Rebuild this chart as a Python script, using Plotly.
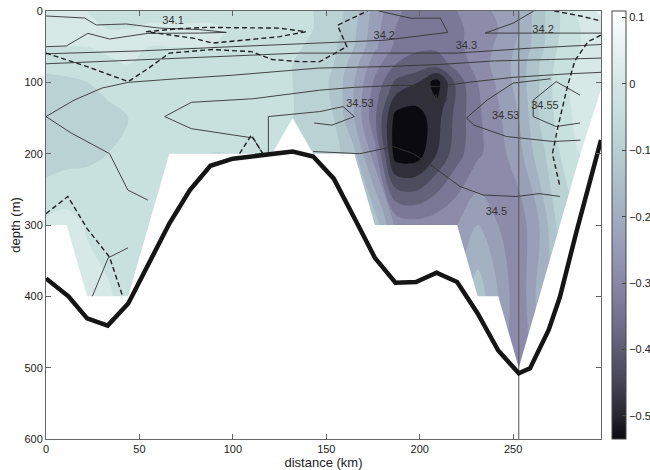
import plotly.graph_objects as go

# ---------------- data ----------------
stations = [0, 11, 22, 33, 44, 55, 66, 77, 88, 99, 110, 121, 132, 143, 154, 165, 176,
            187, 198, 209, 220, 231, 242, 253, 264, 275, 286, 297]
depth_levels = [0, 25, 50, 75, 100, 150, 200, 300, 400, 500]
N = None
anom_0 = [0.02, 0.01, 0.0, -0.01, -0.02, -0.02, -0.02, -0.02, -0.02, -0.02, -0.03, -0.03, -0.04, -0.05,
          -0.07, -0.13, -0.22, -0.29, -0.32, -0.32, -0.30, -0.27, -0.24, -0.20, -0.12, -0.05, 0.02, 0.06]
anom_25 = [0.03, 0.02, 0.01, 0.0, 0.0, 0.01, 0.01, 0.01, 0.01, 0.0, 0.0, -0.01, -0.03, -0.05,
           -0.08, -0.14, -0.23, -0.30, -0.33, -0.33, -0.31, -0.28, -0.25, -0.20, -0.12, -0.05, 0.0, 0.03]
anom_50 = [0.0, 0.0, 0.0, 0.01, 0.01, 0.0, 0.0, 0.0, 0.0, -0.01, -0.02, -0.03, -0.04, -0.06,
           -0.09, -0.15, -0.24, -0.31, -0.34, -0.34, -0.31, -0.28, -0.24, -0.19, -0.12, -0.04, 0.0, 0.02]
anom_75 = [-0.04, -0.03, -0.02, -0.01, 0.0, -0.01, -0.02, -0.03, -0.03, -0.03, -0.04, -0.04, -0.05, -0.07,
           -0.10, -0.18, -0.28, -0.35, -0.37, -0.38, -0.33, -0.28, -0.23, -0.18, -0.10, -0.03, 0.01, 0.03]
anom_100 = [-0.06, -0.06, -0.05, -0.04, -0.03, -0.03, -0.04, -0.04, -0.04, -0.04, -0.05, -0.05, -0.05, -0.07,
            -0.11, -0.20, -0.31, -0.41, -0.44, -0.525, -0.38, -0.30, -0.24, -0.18, -0.10, -0.02, 0.02, 0.03]
anom_150 = [-0.09, -0.08, -0.07, -0.06, -0.05, -0.05, -0.05, -0.05, -0.05, -0.05, -0.05, -0.05, -0.05, -0.06,
            -0.10, -0.20, -0.34, -0.52, -0.53, -0.47, -0.38, -0.31, -0.26, -0.20, -0.10, -0.03, 0.02, N]
anom_200 = [-0.08, -0.07, -0.06, -0.05, -0.05, -0.05, -0.05, -0.05, -0.05, -0.05, -0.05, -0.05, N, -0.06,
            -0.08, -0.14, -0.28, -0.53, -0.53, -0.45, -0.37, -0.31, -0.27, -0.22, -0.12, -0.05, 0.0, N]
anom_300 = [0.01, 0.02, -0.005, -0.03, -0.05, -0.05, N, N, N, N, N, N, N, N,
            N, N, -0.12, -0.26, -0.28, -0.27, -0.25, -0.20, -0.25, -0.28, -0.20, -0.08, N, N]
anom_400 = [N, N, 0.02, 0.01, -0.03, N, N, N, N, N, N, N, N, N,
            N, N, N, N, N, N, N, -0.12, -0.20, -0.29, -0.18, N, N, N]
anom_500 = [N, N, N, N, N, N, N, N, N, N, N, N, N, N,
            N, N, N, N, N, N, N, N, N, -0.30, N, N, N, N]
# deepest sampled depth at each station
max_depth = [300, 300, 400, 400, 400, 300, 200, 200, 200, 200, 200, 200, 150, 200,
             200, 200, 300, 300, 300, 300, 300, 400, 400, 500, 400, 300, 200, 110]

# bathymetry
bathy_x = [0, 12, 22, 33, 44, 55, 66, 77, 88, 100, 118, 132, 143, 154, 166, 176, 187, 198,
           209, 220, 231, 242, 253, 259, 269, 275, 284, 297]
bathy_d = [375, 400, 431, 441, 410, 354, 298, 251, 217, 207, 201, 197, 204, 235, 295, 346, 381, 380,
           367, 380, 424, 476, 508, 501, 447, 401, 308, 181]

# salinity isolines (distance km, depth m)
sal_lines = {
    "34.1": ([0, 20.6, 26.9, 43, 60.8, 82, 96.5, 82, 54.5, 34, 22.4, 10.8, 0],
             [7, 9.8, 19.6, 18.2, 24, 26, 30, 31, 31.3, 39.3, 31.3, 49.1, 50]),
    "34.2a": ([0, 50, 100, 150, 181, 215, 211, 195, 178], [60, 56, 50, 44, 41, 30, 10, 10, 0]),
    "34.2b": ([261, 250, 235, 264, 297], [0, 17, 31, 31, 31]),
    "34.3": ([0, 50, 100, 136, 180, 220, 260, 297], [74, 68, 63, 59, 59, 59, 52, 47]),
    "34.4": ([0, 15, 30, 44, 70, 100, 146, 180, 210, 240, 270, 297],
             [148, 125, 108, 100, 95, 90, 80, 78, 75, 70, 68, 66]),
    "34.5a": ([116, 110.8, 77.8, 63.5, 77.8, 110.8, 146.5, 165, 190, 209, 226, 250, 280, 297],
              [200, 178, 165, 148, 128, 123, 111, 107, 104, 106, 100, 93, 88, 86]),
    "34.5b": ([143, 168, 185.8, 196.5, 207, 221.5, 234, 252, 264, 275],
              [197, 200, 190, 200, 218, 246, 258, 260, 256, 260]),
    "34.45": ([0, 13.4, 34, 43.8, 54.5], [148, 171, 200, 251, 265]),
    "34.53a": ([119, 119, 146.5, 159, 165, 153, 143.5], [200, 148, 141, 134, 148, 160, 157]),
    "34.53b": ([270, 250, 236, 225, 229, 246.5, 271.5, 286], [95, 101, 125, 150, 160, 176, 183, 181]),
    "34.55": ([285.8, 273, 260.7, 260.7, 273, 285.8], [118, 99, 125, 148, 162, 157]),
    "deep": ([24.8, 33.3, 43.9], [400, 346, 332]),
}
label_text = ["34.1", "34.2", "34.2", "34.3", "34.53", "34.5", "34.53", "34.55", "34.5"]
label_x = [68, 181, 266, 225, 168, 209, 246, 267, 241]
label_d = [15, 35, 27, 49, 131, 124, 148, 134, 282]

# dashed contour of anomaly
dash_lines = [
    ([53.6, 70, 85.7, 125, 139, 125, 89, 78.6, 53.6], [29, 25, 23, 24, 29, 36, 45, 38, 29]),
    ([0, 22, 44, 55, 66, 89, 110, 121, 136, 146.5, 161, 156, 172], [59, 78, 99, 80, 59, 54, 57, 68, 71, 71, 50, 20, 0]),
    ([297, 290, 283, 279, 274, 271, 275], [34, 43, 70, 106, 162, 200, 246]),
    ([272, 286, 297], [0, 7, 14]),
    ([0, 11.7, 22, 32, 34, 41], [284, 260, 305, 338, 345, 400]),
    ([103.6, 109.9, 116], [200, 174, 200]),
]

section_x = 253
x_ticks = [0, 50, 100, 150, 200, 250]
y_ticks = [0, 100, 200, 300, 400, 500, 600]
cbar_ticks = [-0.5, -0.4, -0.3, -0.2, -0.1, 0, 0.1]
zmin, zmax = -0.535, 0.11
x_max, y_max = 297, 600

# ---------------- figure ----------------
stops_v = [0.11, 0.05, 0.0, -0.05, -0.10, -0.15, -0.20, -0.25, -0.30, -0.35, -0.40, -0.45, -0.50, -0.535]
stops_c = ["#ffffff", "#e6f1f0", "#d2e7e5", "#c5dedc", "#b7cfd1", "#abbfc8", "#a1adc0", "#969ab4",
           "#8a86a6", "#757391", "#5e5c73", "#464456", "#28262f", "#0a0a10"]
colorscale = sorted([[(v - zmin) / (zmax - zmin), c] for v, c in zip(stops_v, stops_c)])
colorscale[0][0] = 0.0
colorscale[-1][0] = 1.0

z = [anom_0, anom_25, anom_50, anom_75, anom_100, anom_150, anom_200, anom_300, anom_400, anom_500]

fig = go.Figure()
fig.add_trace(go.Contour(
    x=stations, y=depth_levels, z=z, zmin=zmin, zmax=zmax, colorscale=colorscale,
    contours=dict(start=-0.5, end=0.1, size=0.05, coloring="fill"),
    line=dict(width=0), showscale=False, connectgaps=True, hoverinfo="skip"))

# mask below deepest sample
fig.add_trace(go.Scatter(
    x=stations + [x_max, 0], y=max_depth + [y_max, y_max], fill="toself", fillcolor="white",
    mode="lines", line=dict(width=0), hoverinfo="skip", showlegend=False))

for xs, ds in sal_lines.values():
    fig.add_trace(go.Scatter(x=xs, y=ds, mode="lines", line=dict(color="#333333", width=0.9),
                             hoverinfo="skip", showlegend=False))
for xs, ds in dash_lines:
    fig.add_trace(go.Scatter(x=xs, y=ds, mode="lines",
                             line=dict(color="#222222", width=1.4, dash="5px,3px"),
                             hoverinfo="skip", showlegend=False))

fig.add_trace(go.Scatter(x=label_x, y=label_d, text=label_text, mode="text",
                         textfont=dict(size=11, color="#333333", family="Liberation Sans, Arial"),
                         hoverinfo="skip", showlegend=False))

fig.add_trace(go.Scatter(x=[section_x, section_x], y=[0, y_max], mode="lines",
                         line=dict(color="#555555", width=1), hoverinfo="skip", showlegend=False))
fig.add_trace(go.Scatter(x=bathy_x, y=bathy_d, mode="lines", line=dict(color="#151515", width=4.5),
                         hoverinfo="skip", showlegend=False))

# colorbar
fig.add_trace(go.Scatter(
    x=[None], y=[None], mode="markers", showlegend=False, hoverinfo="skip",
    marker=dict(color=[0], cmin=zmin, cmax=zmax, colorscale=colorscale, showscale=True,
                colorbar=dict(x=1.0193, xanchor="left", xpad=0, y=0.5, yanchor="middle", ypad=0,
                              len=1, lenmode="fraction", thickness=14, thicknessmode="pixels",
                              outlinewidth=1, outlinecolor="#444444", borderwidth=0,
                              tickvals=cbar_ticks, ticks="inside", ticklen=4, tickcolor="#444444",
                              tickfont=dict(size=11, color="#222222", family="Liberation Sans, Arial")))))

axis_common = dict(showline=True, linecolor="#666666", linewidth=1, mirror="ticks", ticks="inside",
                   ticklen=5, tickcolor="#666666", showgrid=False, zeroline=False,
                   tickfont=dict(size=11, color="#222222", family="Liberation Sans, Arial"))
fig.update_xaxes(range=[0, x_max], tickvals=x_ticks, title=dict(text="distance (km)", standoff=1,
                 font=dict(size=13, color="#222222", family="Liberation Sans, Arial")), **axis_common)
fig.update_yaxes(range=[y_max, 0], tickvals=y_ticks, title=dict(text="depth (m)", standoff=0,
                 font=dict(size=13, color="#222222", family="Liberation Sans, Arial")), **axis_common)
fig.update_layout(width=650, height=470, margin=dict(l=46, r=49, t=11, b=31, autoexpand=False),
                  paper_bgcolor="white", plot_bgcolor="white", showlegend=False)
fig.write_html("out.html")
